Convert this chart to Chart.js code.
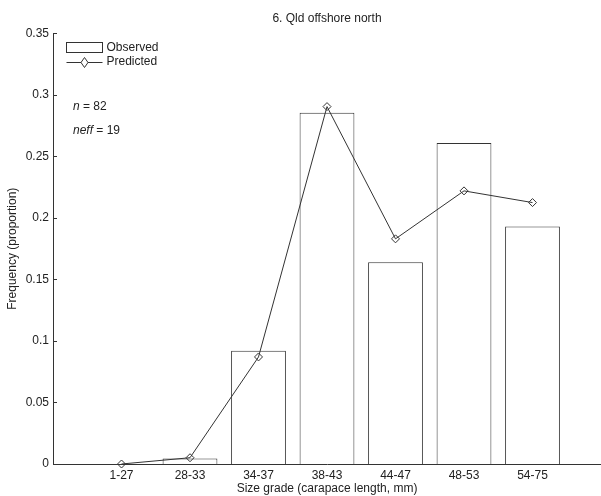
<!DOCTYPE html>
<html>
<head>
<meta charset="utf-8">
<script src="https://cdn.jsdelivr.net/npm/chart.js@4.4.1/dist/chart.umd.min.js"></script>
<style>
  html, body { margin: 0; padding: 0; background: #fff; }
  #wrap { width: 601px; height: 496px; }
</style>
</head>
<body>
<div id="wrap"><canvas id="freqChart"></canvas></div>
<script>
// size grades and proportions
const sizeGrades = ["1-27", "28-33", "34-37", "38-43", "44-47", "48-53", "54-75"];
const observed = [0, 0.0045, 0.092, 0.2855, 0.164, 0.261, 0.193];
const predicted = [0, 0.0051, 0.087, 0.2905, 0.183, 0.222, 0.2125];
const yTicks = [0, 0.05, 0.1, 0.15, 0.2, 0.25, 0.3, 0.35];
const sampleSize = 82;
const effectiveSize = 19;

const ink = "#222";
const lineInk = "#333";
const fontFamily = "'Liberation Sans', Arial, Helvetica, sans-serif";

// axis runs 0..8 so each grade sits on a whole number
const labels = ["", ...sizeGrades, ""];
const pad = (arr) => [null, ...arr, null];

// inward y ticks, legend and n / neff notes
const extras = {
  id: "extras",
  afterDraw(chart) {
    const ctx = chart.ctx;
    const area = chart.chartArea;
    const y = chart.scales.y;

    ctx.save();
    ctx.strokeStyle = lineInk;
    ctx.lineWidth = 1;
    yTicks.forEach((t) => {
      const py = Math.round(y.getPixelForValue(t)) + 0.5;
      ctx.beginPath();
      ctx.moveTo(area.left, py);
      ctx.lineTo(area.left + 4, py);
      ctx.stroke();
    });

    // legend
    const lx = area.left + 13.5;
    ctx.fillStyle = "#fff";
    ctx.strokeRect(lx, 42.5, 36, 10);
    ctx.beginPath();
    ctx.moveTo(lx, 62.5);
    ctx.lineTo(lx + 36, 62.5);
    ctx.stroke();
    const dx = lx + 18, dy = 62.5;
    ctx.beginPath();
    ctx.moveTo(dx, dy - 5);
    ctx.lineTo(dx + 3.5, dy);
    ctx.lineTo(dx, dy + 5);
    ctx.lineTo(dx - 3.5, dy);
    ctx.closePath();
    ctx.fill();
    ctx.stroke();

    ctx.fillStyle = ink;
    ctx.textBaseline = "middle";
    ctx.textAlign = "left";
    ctx.font = "12px " + fontFamily;
    ctx.fillText("Observed", lx + 40, 48);
    ctx.fillText("Predicted", lx + 40, 62);

    // n and neff, italic symbol then plain value
    const note = (sym, rest, nx, ny) => {
      ctx.font = "italic 12px " + fontFamily;
      ctx.fillText(sym, nx, ny);
      const w = ctx.measureText(sym).width;
      ctx.font = "12px " + fontFamily;
      ctx.fillText(rest, nx + w, ny);
    };
    note("n", " = " + sampleSize, area.left + 20, 107);
    note("neff", " = " + effectiveSize, area.left + 20, 131);
    ctx.restore();
  },
};

const data = {
  labels: labels,
  datasets: [
    {
      type: "line",
      label: "Predicted",
      data: pad(predicted),
      borderColor: lineInk,
      borderWidth: 1,
      tension: 0,
      pointStyle: "rectRot",
      pointRadius: 4,
      pointBorderWidth: 1,
      pointBorderColor: lineInk,
      pointBackgroundColor: "rgba(255,255,255,0)",
      clip: false,
      order: 0,
    },
    {
      type: "bar",
      label: "Observed",
      data: pad(observed),
      backgroundColor: "#fff",
      borderColor: lineInk,
      borderWidth: 1,
      categoryPercentage: 0.8,
      barPercentage: 1.0,
      order: 1,
    },
  ],
};

const config = {
  type: "bar",
  data: data,
  options: {
    responsive: true,
    maintainAspectRatio: false,
    animation: false,
    layout: { autoPadding: false, padding: 0 },
    scales: {
      x: {
        offset: false,
        grid: { display: false, drawTicks: false },
        border: { display: true, color: lineInk, width: 1 },
        ticks: {
          color: ink,
          padding: 4,
          maxRotation: 0,
          autoSkip: false,
          font: { family: fontFamily, size: 12 },
        },
        title: {
          display: true,
          text: "Size grade (carapace length, mm)",
          color: ink,
          padding: { top: 0, bottom: 0 },
          font: { family: fontFamily, size: 12 },
        },
        afterFit(scale) {
          scale.height = 32;
          // let the axis run to the right edge of the canvas
          scale.paddingLeft = 0;
          scale.paddingRight = 0;
        },
      },
      y: {
        min: 0,
        max: 0.35,
        afterBuildTicks(scale) {
          scale.ticks = yTicks.map((v) => ({ value: v }));
        },
        grid: { display: false, drawTicks: false },
        border: { display: true, color: lineInk, width: 1 },
        ticks: {
          color: ink,
          padding: 4,
          font: { family: fontFamily, size: 12 },
          callback: (v) => String(+Number(v).toFixed(2)),
        },
        title: {
          display: true,
          text: "Frequency (proportion)",
          color: ink,
          padding: { top: 5, bottom: 0 },
          font: { family: fontFamily, size: 12 },
        },
        afterFit(scale) {
          scale.width = 53;
        },
      },
    },
    plugins: {
      legend: { display: false },
      tooltip: { enabled: false },
      title: {
        display: true,
        text: "6. Qld offshore north",
        color: ink,
        fullSize: false,
        padding: { top: 11, bottom: 8 },
        font: { family: fontFamily, size: 12, weight: "normal" },
      },
    },
  },
  plugins: [extras],
};

const freqChart = new Chart(document.getElementById("freqChart"), config);
</script>
</body>
</html>
